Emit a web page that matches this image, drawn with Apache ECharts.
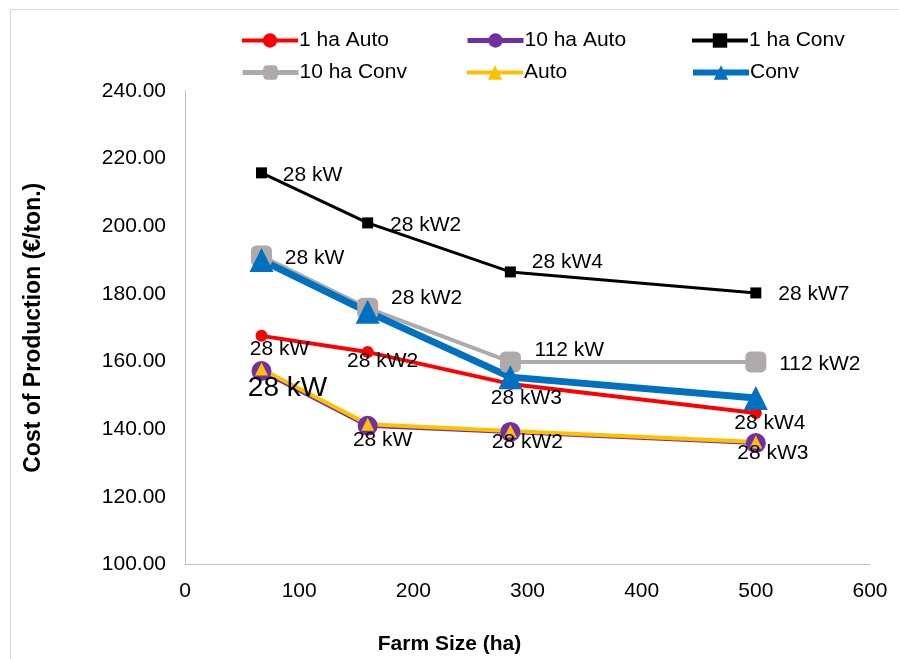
<!DOCTYPE html>
<html>
<head>
<meta charset="utf-8">
<script src="https://cdn.jsdelivr.net/npm/echarts@6/dist/echarts.min.js"></script>
<style>html,body{margin:0;padding:0;background:#fff;}#c{width:899px;height:659px;}</style>
</head>
<body>
<div id="c"></div>
<script>
var farmSize = [67, 160, 285, 500];
var ha1Auto = [167.6, 162.8, 153.4, 144.8];
var ha10Auto = [157.2, 141.0, 139.2, 135.9];
var ha1Conv = [215.8, 201.0, 186.5, 180.3];
var ha10Conv = [191.2, 175.8, 159.9, 159.9];
var autoAvg = [157.8, 141.5, 139.5, 136.2];
var convAvg = [190.0, 174.7, 155.4, 149.2];
var labels1Auto = ['28 kW', '28 kW2', '28 kW3', '28 kW4'];
var labels10Auto = ['28 kW', '28 kW', '28 kW2', '28 kW3'];
var labels1Conv = ['28 kW', '28 kW2', '28 kW4', '28 kW7'];
var labels10Conv = ['28 kW', '28 kW2', '112 kW', '112 kW2'];
var yTicks = [100, 120, 140, 160, 180, 200, 220, 240];

var FONT = '"Liberation Sans", Arial, sans-serif';
var FS = 21;
var baseLabel = { show: true, position: 'inside', color: '#000', fontSize: FS, fontFamily: FONT,
  formatter: function (p) { return p.data.text; } };
function mk(vals, labs, offs, sizes) {
  return farmSize.map(function (x, i) {
    var d = { value: [x, vals[i]] };
    if (labs) {
      d.text = labs[i];
      d.label = Object.assign({}, baseLabel, { offset: offs[i] });
      if (sizes && sizes[i]) d.label.fontSize = sizes[i];
    }
    return d;
  });
}

var series = [
  {
    name: '1 ha Auto', type: 'line', symbol: 'circle', symbolSize: 12,
    itemStyle: { color: '#ff0000' }, lineStyle: { color: '#ff0000', width: 4 },
    data: mk(ha1Auto, labels1Auto, [[18, 13], [15, 9], [16, 14], [14, 10]])
  },
  {
    name: '10 ha Auto', type: 'line', symbol: 'circle', symbolSize: 20,
    itemStyle: { color: '#7030a0' }, lineStyle: { color: '#7030a0', width: 4 },
    data: mk(ha10Auto, labels10Auto, [[26, 17], [15, 14], [17, 10], [17, 10]], [28])
  },
  {
    name: '1 ha Conv', type: 'line', symbol: 'rect', symbolSize: 11,
    itemStyle: { color: '#000000' }, lineStyle: { color: '#000000', width: 3 },
    data: mk(ha1Conv, labels1Conv, [[51, 2], [58, 2], [57, -10], [58, 1]])
  },
  {
    name: '10 ha Conv', type: 'line', symbol: 'roundRect', symbolSize: 21,
    itemStyle: { color: '#aeaaaa' }, lineStyle: { color: '#aeaaaa', width: 4 },
    data: mk(ha10Conv, labels10Conv, [[53, 2], [59, -10], [59, -12], [64, 2]])
  },
  {
    name: 'Auto', type: 'line', symbol: 'triangle', symbolSize: 13,
    itemStyle: { color: '#ffc000' }, lineStyle: { color: '#ffc000', width: 4 },
    data: mk(autoAvg, null, null)
  },
  {
    name: 'Conv', type: 'line', symbol: 'triangle', symbolSize: 24,
    itemStyle: { color: '#0070c0' }, lineStyle: { color: '#0070c0', width: 7 },
    data: mk(convAvg, null, null)
  }
];
series.forEach(function (s) { s.showSymbol = true; s.animation = false; });

var legendPos = [
  ['1 ha Auto', 240, 30, 4], ['10 ha Auto', 465, 30, 5], ['1 ha Conv', 690, 30, 4],
  ['10 ha Conv', 240, 62, 5], ['Auto', 465, 62, 4], ['Conv', 690, 62, 6]
];
var legends = legendPos.map(function (l) {
  return {
    data: [{ name: l[0], lineStyle: { width: l[3] } }], left: l[1], top: l[2],
    itemWidth: 56, itemHeight: 18, itemGap: 0, padding: 0,
    textStyle: { fontSize: FS, fontFamily: FONT, color: '#000', padding: [0, 0, 0, -4] },
    selectedMode: false
  };
});

var chart = echarts.init(document.getElementById('c'), null, { renderer: 'canvas' });
chart.setOption({
  backgroundColor: '#fff',
  animation: false,
  legend: legends,
  graphic: [{
    type: 'rect', shape: { x: 10.5, y: 9.5, width: 1000, height: 1000 },
    style: { fill: 'none', stroke: '#d9d9d9', lineWidth: 1 }, silent: true, z: -1
  }, {
    type: 'text', left: 'center', top: 634, silent: true,
    style: { text: 'Farm Size (ha)', fontSize: FS, fontWeight: 'bold', fontFamily: FONT, fill: '#000', x: 0 }
  }],
  grid: { left: 185, right: 29, top: 91, bottom: 94.5 },
  xAxis: {
    type: 'value', min: 0, max: 600, interval: 100,
    axisLine: { show: true, lineStyle: { color: '#bfbfbf', width: 1 } },
    axisTick: { show: false }, splitLine: { show: false },
    axisLabel: { fontSize: FS, fontFamily: FONT, color: '#000', margin: 16 }
  },
  yAxis: {
    type: 'value', min: yTicks[0], max: yTicks[yTicks.length - 1], interval: 20,
    axisLine: { show: true, lineStyle: { color: '#bfbfbf', width: 1 } },
    axisTick: { show: false }, splitLine: { show: false },
    axisLabel: { fontSize: FS, fontFamily: FONT, color: '#000', margin: 19, formatter: function (v) { return v.toFixed(2); } },
    name: 'Cost of Production (€/ton.)', nameLocation: 'middle', nameGap: 140,
    nameTextStyle: { fontSize: 23, fontWeight: 'bold', fontFamily: FONT, color: '#000' }
  },
  series: series
});
</script>
</body>
</html>
